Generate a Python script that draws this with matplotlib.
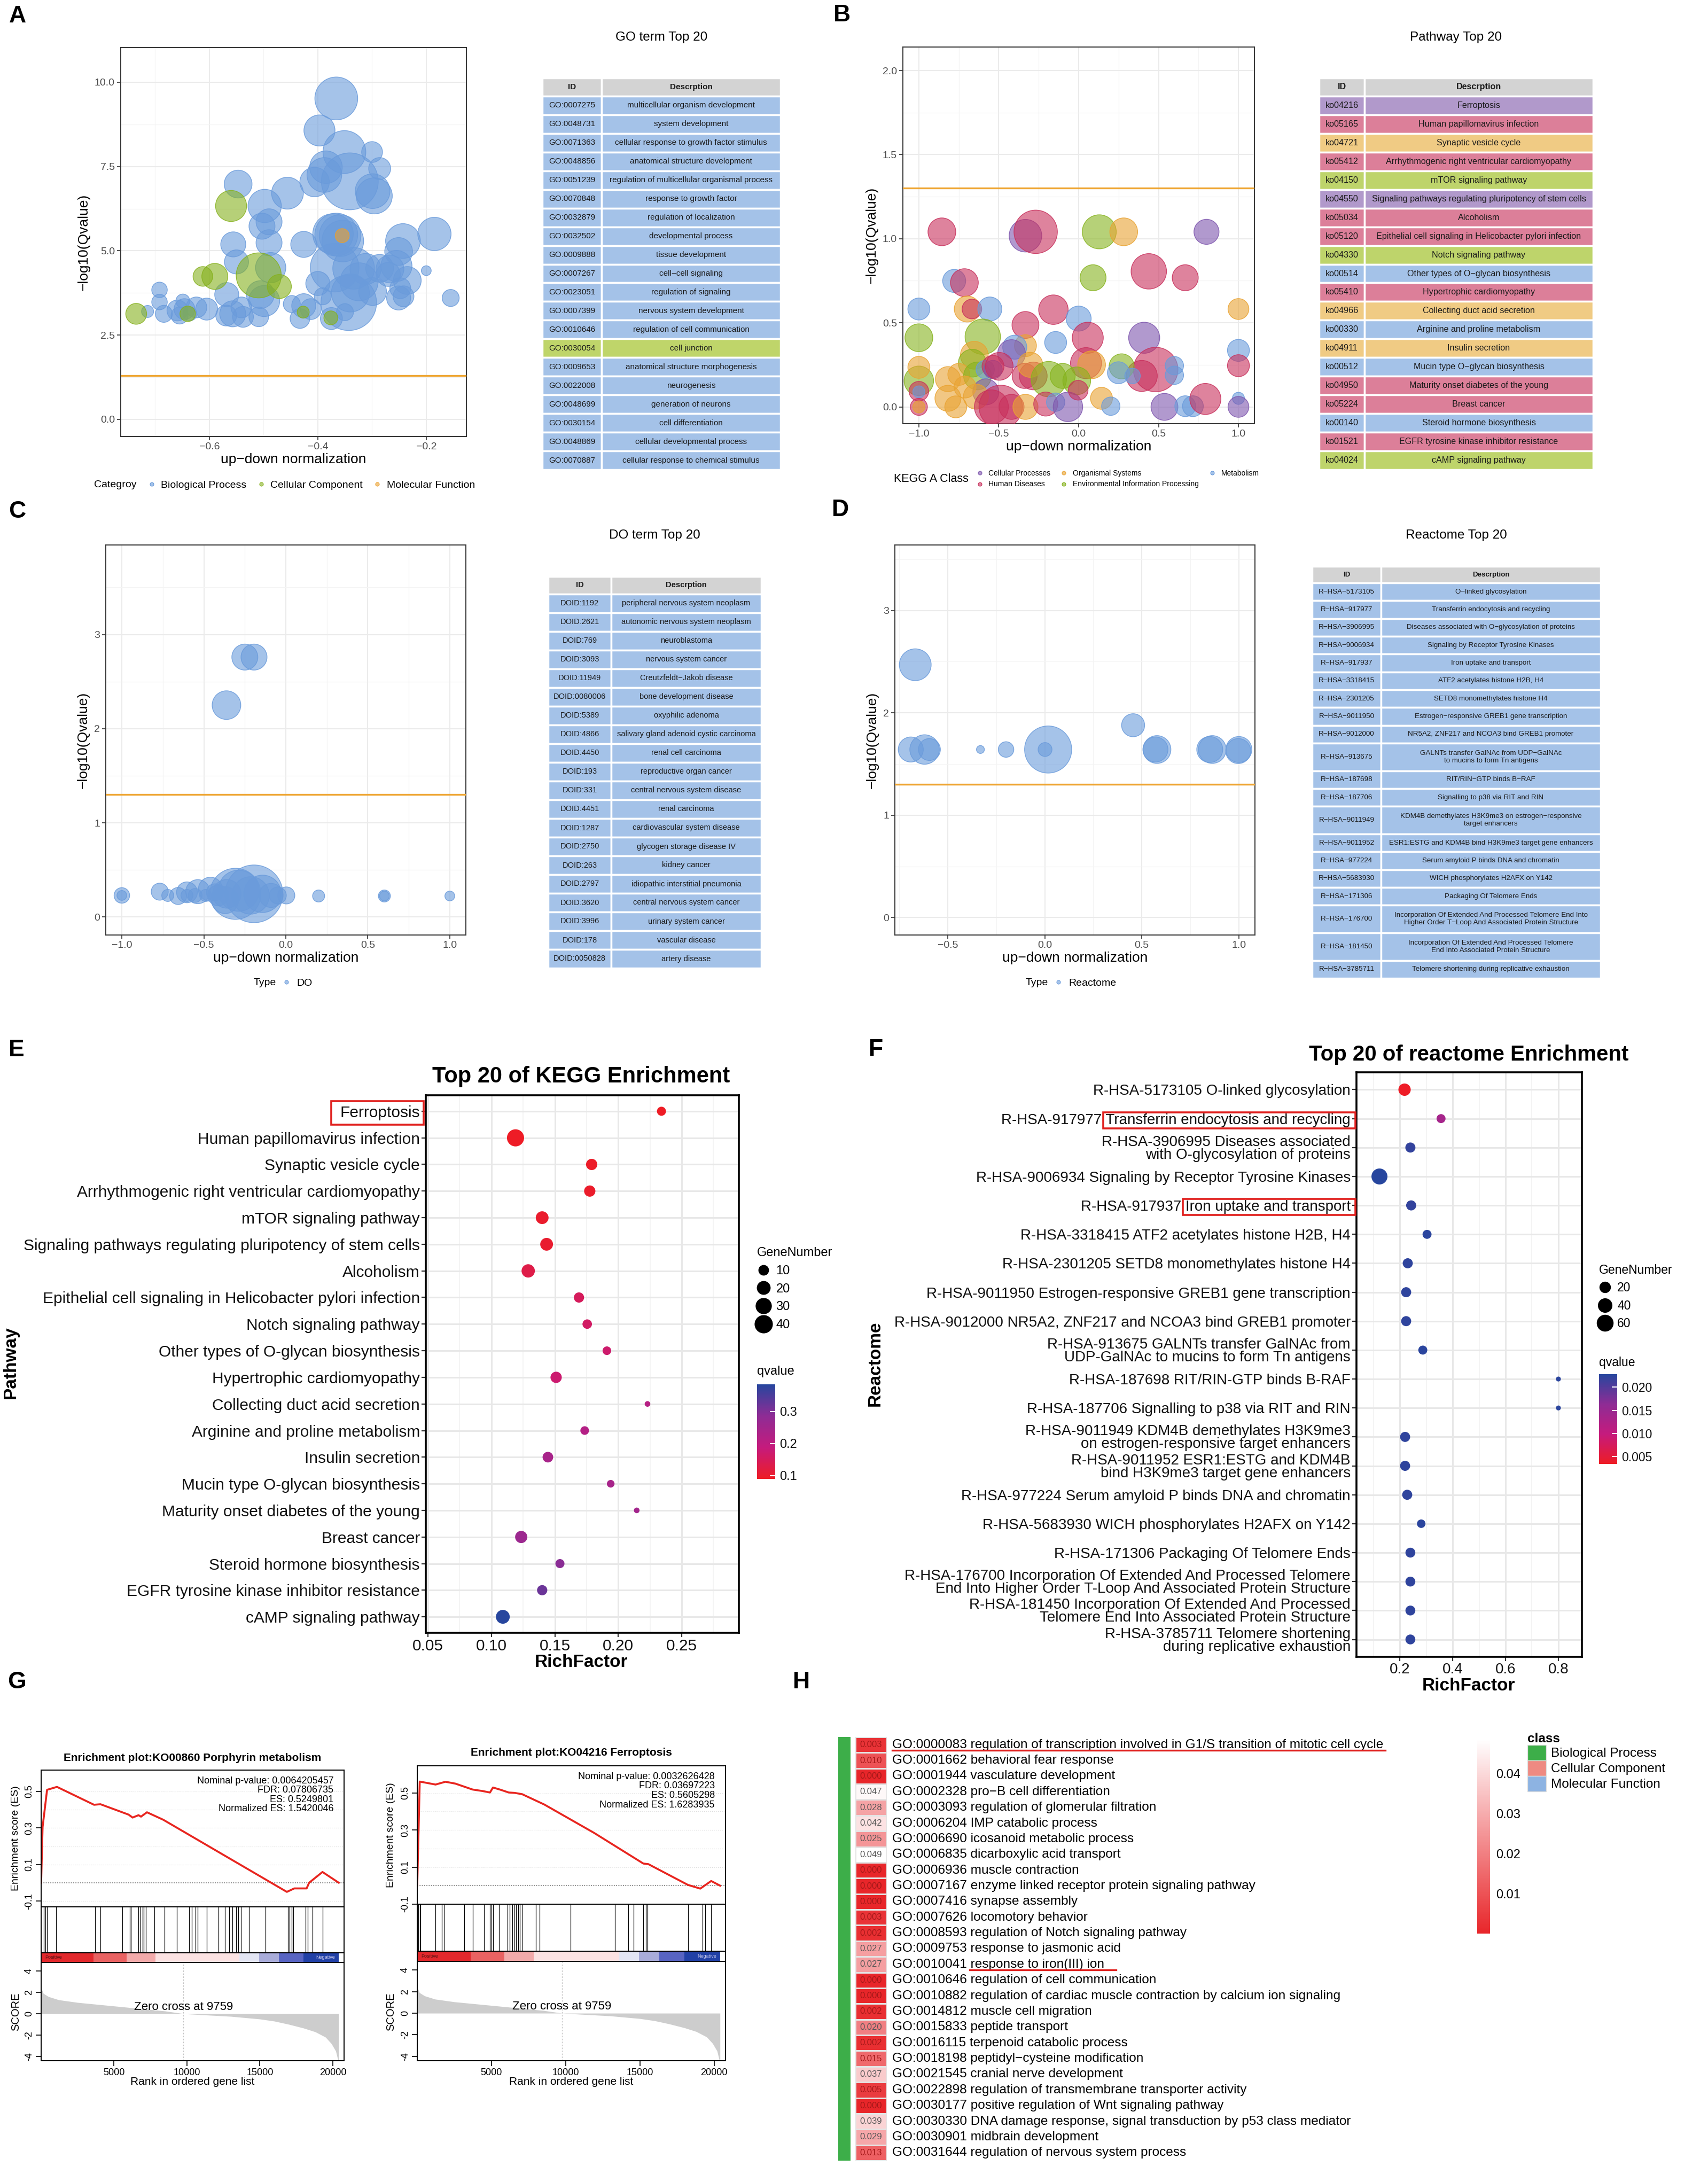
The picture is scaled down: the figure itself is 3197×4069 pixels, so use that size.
import numpy as np
import matplotlib
matplotlib.use("Agg")
import matplotlib.pyplot as plt
from matplotlib.colors import LinearSegmentedColormap, ListedColormap, to_rgba
from matplotlib.lines import Line2D
from matplotlib.patches import Patch, Rectangle

W, H = 3197, 4069
plt.rcParams['font.family'] = ['Liberation Sans', 'DejaVu Sans']

# ---------------- A: GO bubbles ----------------
go_x = [-0.366, -0.397, -0.351, -0.300, -0.385, -0.286, -0.388, -0.406, -0.341, -0.299,
        -0.296, -0.547, -0.456, -0.498, -0.490, -0.503, -0.372, -0.366, -0.359, -0.354,
        -0.426, -0.556, -0.490, -0.243, -0.185, -0.251, -0.550, -0.487, -0.369, -0.334,
        -0.312, -0.286, -0.267, -0.255, -0.235, -0.200, -0.155, -0.251, -0.248, -0.324,
        -0.343, -0.340, -0.400, -0.391, -0.426, -0.413, -0.448, -0.433, -0.375, -0.350,
        -0.299, -0.568, -0.557, -0.569, -0.541, -0.538, -0.509, -0.499, -0.506, -0.605,
        -0.624, -0.646, -0.659, -0.649, -0.684, -0.692, -0.692, -0.714, -0.655, -0.636,
        -0.242, -0.270,
        -0.560, -0.509, -0.590, -0.612, -0.471, -0.735, -0.640, -0.427, -0.376,
        -0.355]
go_y = [9.52, 8.57, 7.93, 7.93, 7.48, 7.44, 7.25, 7.04, 7.06, 6.77,
        6.63, 6.98, 6.71, 6.33, 5.86, 5.73, 5.50, 5.48, 5.45, 5.29,
        5.19, 5.19, 5.24, 5.29, 5.50, 4.98, 4.67, 4.50, 4.50, 4.48,
        4.46, 4.48, 4.46, 4.55, 4.12, 4.41, 3.60, 3.60, 3.89, 4.08,
        3.46, 3.75, 4.03, 3.65, 3.37, 3.27, 3.42, 2.99, 2.99, 3.18,
        3.79, 3.70, 3.13, 3.08, 3.32, 3.04, 3.04, 3.51, 3.70, 3.27,
        3.32, 3.27, 3.23, 3.51, 3.13, 3.48, 3.84, 3.20, 3.08, 3.13,
        3.65, 4.30,
        6.33, 4.27, 4.24, 4.24, 3.94, 3.13, 3.13, 3.18, 3.01,
        5.45]
go_n = [38, 20, 38, 9, 22, 10, 25, 18, 67, 25,
        27, 16, 21, 23, 14, 14, 34, 38, 36, 36,
        14, 13, 14, 25, 23, 16, 12, 19, 49, 36,
        20, 16, 16, 20, 16, 2, 6, 12, 9, 30,
        64, 30, 12, 6, 12, 9, 6, 8, 10, 6,
        16, 12, 14, 9, 9, 9, 8, 20, 16, 10,
        9, 9, 9, 4, 6, 5, 5, 3, 6, 4,
        9, 12,
        20, 42, 14, 8, 12, 9, 5, 3, 4,
        4]
go_cat = ['BP'] * 72 + ['CC'] * 9 + ['MF']
go_ids = ['GO:0007275', 'GO:0048731', 'GO:0071363', 'GO:0048856', 'GO:0051239', 'GO:0070848',
          'GO:0032879', 'GO:0032502', 'GO:0009888', 'GO:0007267', 'GO:0023051', 'GO:0007399',
          'GO:0010646', 'GO:0030054', 'GO:0009653', 'GO:0022008', 'GO:0048699', 'GO:0030154',
          'GO:0048869', 'GO:0070887']
go_desc = ['multicellular organism development', 'system development',
           'cellular response to growth factor stimulus', 'anatomical structure development',
           'regulation of multicellular organismal process', 'response to growth factor',
           'regulation of localization', 'developmental process', 'tissue development',
           'cell-cell signaling', 'regulation of signaling', 'nervous system development',
           'regulation of cell communication', 'cell junction',
           'anatomical structure morphogenesis', 'neurogenesis', 'generation of neurons',
           'cell differentiation', 'cellular developmental process',
           'cellular response to chemical stimulus']
go_tab_cat = ['BP'] * 13 + ['CC'] + ['BP'] * 6

# ---------------- B: KEGG bubbles ----------------
kb = [('H', -0.856, 1.041, 16), ('P', -0.333, 1.018, 22), ('H', -0.269, 1.041, 39),
      ('E', 0.129, 1.041, 24), ('O', 0.282, 1.041, 16), ('P', 0.800, 1.041, 13),
      ('M', -0.779, 0.749, 11), ('H', -0.715, 0.739, 16), ('H', 0.439, 0.806, 26),
      ('H', 0.667, 0.768, 14), ('E', 0.090, 0.768, 14), ('M', -1.0, 0.582, 10),
      ('O', -0.697, 0.582, 14), ('H', -0.668, 0.582, 8), ('M', -0.556, 0.582, 12),
      ('H', -0.158, 0.578, 18), ('M', 0.0, 0.525, 13), ('O', 1.0, 0.582, 9),
      ('H', -0.333, 0.487, 15), ('E', -1.0, 0.411, 16), ('E', -0.60, 0.417, 26),
      ('H', 0.057, 0.411, 20), ('P', 0.410, 0.411, 20), ('M', -0.144, 0.383, 10),
      ('O', -0.333, 0.364, 10), ('M', -0.40, 0.355, 12), ('M', 1.0, 0.336, 10),
      ('O', -0.653, 0.307, 16), ('P', -0.42, 0.317, 16), ('H', 0.482, 0.222, 41),
      ('H', 0.395, 0.184, 20), ('H', 0.046, 0.260, 20), ('O', 0.081, 0.250, 16),
      ('E', 0.269, 0.241, 13), ('M', 0.249, 0.203, 10), ('M', 0.337, 0.184, 5),
      ('M', 0.599, 0.245, 7), ('M', 0.599, 0.188, 7), ('H', 1.0, 0.245, 10),
      ('E', -0.666, 0.260, 16), ('E', -1.0, 0.155, 18), ('O', -1.0, 0.235, 10),
      ('H', -1.0, 0.093, 8), ('M', -1.0, 0.089, 3), ('H', -1.0, 0.0, 6),
      ('O', -1.0, 0.0, 3), ('O', -0.818, 0.165, 13), ('O', -0.75, 0.193, 10),
      ('O', -0.818, 0.051, 14), ('O', -0.769, 0.0, 10), ('E', -0.633, 0.184, 16),
      ('M', -0.585, 0.222, 7), ('H', -0.536, 0.241, 10), ('P', -0.536, 0.222, 7),
      ('H', -0.497, 0.241, 16), ('P', -0.581, 0.089, 14), ('O', -0.643, 0.061, 13),
      ('H', -0.546, 0.0, 24), ('H', -0.488, 0.0, 39), ('H', -0.420, 0.0, 13),
      ('O', -0.333, 0.0, 13), ('H', -0.338, 0.184, 13), ('H', -0.284, 0.184, 16),
      ('O', -0.303, 0.250, 13), ('E', -0.187, 0.165, 26), ('E', -0.10, 0.184, 13),
      ('E', -0.012, 0.155, 16), ('H', -0.206, 0.017, 12), ('M', -0.144, 0.028, 7),
      ('P', -0.067, 0.0, 18), ('H', -0.003, 0.099, 8), ('O', 0.143, 0.051, 10),
      ('M', 0.201, 0.004, 7), ('P', 0.537, 0.0, 15), ('M', 0.667, 0.004, 9),
      ('M', 0.715, 0.004, 9), ('H', 0.793, 0.047, 20), ('M', 1.0, 0.051, 3),
      ('P', 1.0, 0.0, 9), ('O', -0.711, 0.118, 10)]
kegg_cat = [r[0] for r in kb]
kegg_bx = [r[1] for r in kb]
kegg_by = [r[2] for r in kb]
kegg_bn = [r[3] for r in kb]
kegg_ids = ['ko04216', 'ko05165', 'ko04721', 'ko05412', 'ko04150', 'ko04550', 'ko05034',
            'ko05120', 'ko04330', 'ko00514', 'ko05410', 'ko04966', 'ko00330', 'ko04911',
            'ko00512', 'ko04950', 'ko05224', 'ko00140', 'ko01521', 'ko04024']
kegg_terms = ['Ferroptosis', 'Human papillomavirus infection', 'Synaptic vesicle cycle',
              'Arrhythmogenic right ventricular cardiomyopathy', 'mTOR signaling pathway',
              'Signaling pathways regulating pluripotency of stem cells', 'Alcoholism',
              'Epithelial cell signaling in Helicobacter pylori infection',
              'Notch signaling pathway', 'Other types of O-glycan biosynthesis',
              'Hypertrophic cardiomyopathy', 'Collecting duct acid secretion',
              'Arginine and proline metabolism', 'Insulin secretion',
              'Mucin type O-glycan biosynthesis', 'Maturity onset diabetes of the young',
              'Breast cancer', 'Steroid hormone biosynthesis',
              'EGFR tyrosine kinase inhibitor resistance', 'cAMP signaling pathway']
kegg_tab_cat = ['P', 'H', 'O', 'H', 'E', 'P', 'H', 'H', 'E', 'M',
                'H', 'O', 'M', 'O', 'M', 'H', 'H', 'M', 'H', 'E']
kegg_class_names = {'P': 'Cellular Processes', 'H': 'Human Diseases', 'O': 'Organismal Systems',
                    'E': 'Environmental Information Processing', 'M': 'Metabolism'}

# ---------------- C: DO bubbles ----------------
do_x = [-0.25, -0.194, -0.362, -1.0, -1.0, -0.769, -0.72, -0.657, -0.603, -0.603,
        -0.553, -0.537, -0.489, -0.46, -0.412, -0.36, -0.433, -0.37, -0.308, -0.288,
        -0.194, -0.215, -0.142, -0.09, -0.049, 0.003, 0.2, 0.601, 0.601, 1.0]
do_y = [2.76, 2.76, 2.25, 0.23, 0.23, 0.27, 0.23, 0.224, 0.263, 0.23,
        0.23, 0.27, 0.23, 0.296, 0.23, 0.247, 0.263, 0.18, 0.247, 0.28,
        0.247, 0.23, 0.247, 0.23, 0.23, 0.23, 0.224, 0.224, 0.224, 0.224]
do_n = [14, 14, 17, 5, 2, 6, 3, 6, 9, 3,
        4, 12, 3, 12, 9, 17, 6, 15, 54, 35,
        69, 29, 29, 12, 6, 6, 3, 3, 2, 2]
do_ids = ['DOID:1192', 'DOID:2621', 'DOID:769', 'DOID:3093', 'DOID:11949', 'DOID:0080006',
          'DOID:5389', 'DOID:4866', 'DOID:4450', 'DOID:193', 'DOID:331', 'DOID:4451',
          'DOID:1287', 'DOID:2750', 'DOID:263', 'DOID:2797', 'DOID:3620', 'DOID:3996',
          'DOID:178', 'DOID:0050828']
do_desc = ['peripheral nervous system neoplasm', 'autonomic nervous system neoplasm',
           'neuroblastoma', 'nervous system cancer', 'Creutzfeldt-Jakob disease',
           'bone development disease', 'oxyphilic adenoma',
           'salivary gland adenoid cystic carcinoma', 'renal cell carcinoma',
           'reproductive organ cancer', 'central nervous system disease', 'renal carcinoma',
           'cardiovascular system disease', 'glycogen storage disease IV', 'kidney cancer',
           'idiopathic interstitial pneumonia', 'central nervous system cancer',
           'urinary system cancer', 'vascular disease', 'artery disease']

# ---------------- D: Reactome bubbles ----------------
re_x = [-0.668, -0.691, -0.62, -0.595, -0.332, -0.2, 0.017, 0.001, 0.455, 0.578,
        0.570, 0.863, 0.85, 1.0, 0.997]
re_y = [2.47, 1.642, 1.642, 1.642, 1.642, 1.642, 1.642, 1.642, 1.879, 1.642,
        1.642, 1.642, 1.642, 1.642, 1.627]
re_n = [21, 13, 18, 10, 1.3, 5, 46, 4, 11, 16, 13, 16, 14, 14, 13]
re_ids = ['R-HSA-5173105', 'R-HSA-917977', 'R-HSA-3906995', 'R-HSA-9006934', 'R-HSA-917937',
          'R-HSA-3318415', 'R-HSA-2301205', 'R-HSA-9011950', 'R-HSA-9012000', 'R-HSA-913675',
          'R-HSA-187698', 'R-HSA-187706', 'R-HSA-9011949', 'R-HSA-9011952', 'R-HSA-977224',
          'R-HSA-5683930', 'R-HSA-171306', 'R-HSA-176700', 'R-HSA-181450', 'R-HSA-3785711']
re_desc = ['O-linked glycosylation', 'Transferrin endocytosis and recycling',
           'Diseases associated with O-glycosylation of proteins',
           'Signaling by Receptor Tyrosine Kinases', 'Iron uptake and transport',
           'ATF2 acetylates histone H2B, H4', 'SETD8 monomethylates histone H4',
           'Estrogen-responsive GREB1 gene transcription',
           'NR5A2, ZNF217 and NCOA3 bind GREB1 promoter',
           'GALNTs transfer GalNAc from UDP-GalNAc\nto mucins to form Tn antigens',
           'RIT/RIN-GTP binds B-RAF', 'Signalling to p38 via RIT and RIN',
           'KDM4B demethylates H3K9me3 on estrogen-responsive\ntarget enhancers',
           'ESR1:ESTG and KDM4B bind H3K9me3 target gene enhancers',
           'Serum amyloid P binds DNA and chromatin', 'WICH phosphorylates H2AFX on Y142',
           'Packaging Of Telomere Ends',
           'Incorporation Of Extended And Processed Telomere End Into\nHigher Order T-Loop And Associated Protein Structure',
           'Incorporation Of Extended And Processed Telomere\nEnd Into Associated Protein Structure',
           'Telomere shortening during replicative exhaustion']

# ---------------- E: KEGG enrichment dots ----------------
kegg_rich = [0.234, 0.119, 0.179, 0.1775, 0.140, 0.1435, 0.129, 0.169, 0.1755, 0.191,
             0.151, 0.223, 0.1735, 0.1445, 0.194, 0.2145, 0.1235, 0.154, 0.140, 0.109]
kegg_genes = [8, 38, 14, 14, 19, 19, 21, 11, 9, 7, 14, 2, 7, 12, 5, 2, 17, 8, 11, 23]
kegg_q = [0.090, 0.092, 0.095, 0.097, 0.100, 0.102, 0.130, 0.150, 0.160, 0.170,
          0.172, 0.215, 0.220, 0.240, 0.242, 0.250, 0.262, 0.290, 0.320, 0.385]

# ---------------- F: Reactome enrichment dots ----------------
react_terms = ['R-HSA-5173105 O-linked glycosylation',
               'R-HSA-917977 Transferrin endocytosis and recycling',
               'R-HSA-3906995 Diseases associated\nwith O-glycosylation of proteins',
               'R-HSA-9006934 Signaling by Receptor Tyrosine Kinases',
               'R-HSA-917937 Iron uptake and transport',
               'R-HSA-3318415 ATF2 acetylates histone H2B, H4',
               'R-HSA-2301205 SETD8 monomethylates histone H4',
               'R-HSA-9011950 Estrogen-responsive GREB1 gene transcription',
               'R-HSA-9012000 NR5A2, ZNF217 and NCOA3 bind GREB1 promoter',
               'R-HSA-913675 GALNTs transfer GalNAc from\nUDP-GalNAc to mucins to form Tn antigens',
               'R-HSA-187698 RIT/RIN-GTP binds B-RAF',
               'R-HSA-187706 Signalling to p38 via RIT and RIN',
               'R-HSA-9011949 KDM4B demethylates H3K9me3\non estrogen-responsive target enhancers',
               'R-HSA-9011952 ESR1:ESTG and KDM4B\nbind H3K9me3 target gene enhancers',
               'R-HSA-977224 Serum amyloid P binds DNA and chromatin',
               'R-HSA-5683930 WICH phosphorylates H2AFX on Y142',
               'R-HSA-171306 Packaging Of Telomere Ends',
               'R-HSA-176700 Incorporation Of Extended And Processed Telomere\nEnd Into Higher Order T-Loop And Associated Protein Structure',
               'R-HSA-181450 Incorporation Of Extended And Processed\nTelomere End Into Associated Protein Structure',
               'R-HSA-3785711 Telomere shortening\nduring replicative exhaustion']
react_rich = [0.218, 0.356, 0.240, 0.123, 0.243, 0.303, 0.230, 0.224, 0.224, 0.287,
              0.800, 0.800, 0.220, 0.220, 0.228, 0.281, 0.240, 0.240, 0.240, 0.240]
react_genes = [30, 12, 17, 59, 17, 12, 17, 17, 17, 12, 1, 1, 17, 17, 17, 10, 16, 16, 16, 16]
react_q = [0.0035, 0.0135, 0.0220, 0.0228, 0.0220, 0.0225, 0.0222, 0.0222, 0.0222, 0.0225,
           0.0225, 0.0225, 0.0222, 0.0222, 0.0222, 0.0225, 0.0222, 0.0222, 0.0222, 0.0222]

# ---------------- G: GSEA ----------------
es1_x = [0, 100, 407, 1085, 3627, 4068, 6000, 6271, 6678, 6848, 7255, 8373, 13458, 16848,
         17357, 18204, 18374, 19290, 20408]
es1_y = [0.0, 0.305, 0.509, 0.525, 0.427, 0.430, 0.373, 0.357, 0.370, 0.362, 0.386, 0.345,
         0.108, -0.050, -0.031, -0.031, 0.0, 0.059, 0.0]
hits1 = [170, 305, 407, 1017, 3695, 4068, 5560, 6068, 6170, 6678, 6780, 6950, 7018, 7187,
         7763, 8475, 9322, 10136, 10340, 10577, 10747, 11357, 12170, 12611, 12882, 13119,
         13357, 13526, 13696, 14238, 15391, 16916, 17018, 17187, 17289, 18137, 18272,
         18611, 19290]
es2_x = [0, 167, 567, 1234, 1900, 2567, 3734, 4401, 4901, 5101, 5568, 6168, 6568, 7068,
         8568, 11902, 15236, 15570, 18237, 19070, 19804, 20404]
es2_y = [0.0, 0.561, 0.555, 0.545, 0.560, 0.550, 0.518, 0.510, 0.502, 0.529, 0.518, 0.502,
         0.500, 0.493, 0.437, 0.285, 0.119, 0.116, 0.004, -0.016, 0.025, 0.0]
hits2 = [67, 167, 233, 1234, 1667, 1800, 3167, 3734, 4501, 4901, 5001, 5101, 5501, 6068,
         6235, 6401, 6568, 6668, 6801, 6901, 7068, 8002, 8235, 10335, 13336, 14236, 14569,
         15236, 15403, 15503, 18237, 19237, 19404, 19804]
score_x = [0, 150, 500, 1200, 2500, 4000, 5500, 7000, 8500, 9759, 11000, 13000, 15000,
           16000, 17000, 18000, 18800, 19500, 19900, 20200, 20400]
score_y = [2.4, 1.9, 1.6, 1.3, 1.05, 0.85, 0.65, 0.45, 0.25, 0.0, -0.1, -0.25, -0.5,
           -0.7, -1.0, -1.35, -1.7, -2.2, -2.8, -3.5, -4.6]
rank_edges = [0, 3600, 5850, 7850, 13600, 14950, 16300, 18000, 20400]
rank_colors = ['#E2282C', '#E96262', '#F2AAAA', '#FBE2E2', '#E3E5F3', '#A9ACD9',
               '#5864C2', '#2140A6']
zero_cross = 9759
gsea_titles = ['Enrichment plot:KO00860 Porphyrin metabolism',
               'Enrichment plot:KO04216 Ferroptosis']
gsea_stats = ['Nominal p-value: 0.0064205457\nFDR: 0.07806735\nES: 0.5249801\nNormalized ES: 1.5420046',
              'Nominal p-value: 0.0032626428\nFDR: 0.03697223\nES: 0.5605298\nNormalized ES: 1.6283935']

# ---------------- H: GO heatmap ----------------
h_ids = ['GO:0000083', 'GO:0001662', 'GO:0001944', 'GO:0002328', 'GO:0003093', 'GO:0006204',
         'GO:0006690', 'GO:0006835', 'GO:0006936', 'GO:0007167', 'GO:0007416', 'GO:0007626',
         'GO:0008593', 'GO:0009753', 'GO:0010041', 'GO:0010646', 'GO:0010882', 'GO:0014812',
         'GO:0015833', 'GO:0016115', 'GO:0018198', 'GO:0021545', 'GO:0022898', 'GO:0030177',
         'GO:0030330', 'GO:0030901', 'GO:0031644']
h_desc = ['regulation of transcription involved in G1/S transition of mitotic cell cycle',
          'behavioral fear response', 'vasculature development', 'pro-B cell differentiation',
          'regulation of glomerular filtration', 'IMP catabolic process',
          'icosanoid metabolic process', 'dicarboxylic acid transport', 'muscle contraction',
          'enzyme linked receptor protein signaling pathway', 'synapse assembly',
          'locomotory behavior', 'regulation of Notch signaling pathway',
          'response to jasmonic acid', 'response to iron(III) ion',
          'regulation of cell communication',
          'regulation of cardiac muscle contraction by calcium ion signaling',
          'muscle cell migration', 'peptide transport', 'terpenoid catabolic process',
          'peptidyl-cysteine modification', 'cranial nerve development',
          'regulation of transmembrane transporter activity',
          'positive regulation of Wnt signaling pathway',
          'DNA damage response, signal transduction by p53 class mediator',
          'midbrain development', 'regulation of nervous system process']
h_q = [0.003, 0.010, 0.000, 0.047, 0.028, 0.042, 0.025, 0.049, 0.000, 0.000, 0.000, 0.003,
       0.002, 0.027, 0.027, 0.000, 0.000, 0.002, 0.020, 0.002, 0.015, 0.037, 0.005, 0.000,
       0.039, 0.029, 0.013]
h_class = ['Biological Process'] * 27
h_class_names = ['Biological Process', 'Cellular Component', 'Molecular Function']

# ---------------- styles ----------------
go_pal = {'BP': '#6A9BDB', 'CC': '#86B11E', 'MF': '#EBA02E'}
go_tab_pal = {'BP': '#A4C2E8', 'CC': '#BFD56A'}
kegg_pal = {'P': '#7E56AE', 'H': '#C8305C', 'O': '#E9A332', 'E': '#86B31E', 'M': '#6A9BDB'}
kegg_tab_pal = {'P': '#B199CB', 'H': '#DC7F99', 'O': '#F0CB84', 'E': '#BED46B', 'M': '#A4C2E8'}
cmap_rb = LinearSegmentedColormap.from_list('rb', ['#EE1C25', '#C51B7D', '#8E2C95', '#27469E'])
cmap_rw = LinearSegmentedColormap.from_list('rw', ['#E8262A', '#FFFFFF'])
class_pal = {'Biological Process': '#3DAE49', 'Cellular Component': '#EE8A82',
             'Molecular Function': '#8DB3E2'}

fig = plt.figure(figsize=(W / 100, H / 100), dpi=100)


def px_axes(l, t, r, b):
    return fig.add_axes([l / W, 1 - b / H, (r - l) / W, (b - t) / H])


def fy(y):
    return 1 - y / H


def bubble_panel(box, xs, ys, ns, cols, xlim, ylim, xmaj, xmin, ymaj, ymin, xfmt, yfmt):
    ax = px_axes(*box)
    ax.scatter(xs, ys, s=87.6 * np.asarray(ns, float),
               facecolor=[to_rgba(c, 0.6) for c in cols],
               edgecolor=[to_rgba(c, 0.85) for c in cols], linewidth=1.0, zorder=3)
    ax.axhline(-np.log10(0.05), color='#EEA532', lw=2.4, zorder=4)
    ax.set_xlim(xlim)
    ax.set_ylim(ylim)
    ax.set_xticks(xmaj, [xfmt.format(v).replace('-', '\u2212') for v in xmaj])
    ax.set_xticks(xmin, minor=True)
    ax.set_yticks(ymaj, [yfmt.format(v) for v in ymaj])
    ax.set_yticks(ymin, minor=True)
    ax.grid(True, which='major', color='#EBEBEB', lw=1.5)
    ax.grid(True, which='minor', color='#F4F4F4', lw=0.9)
    ax.set_axisbelow(True)
    for s in ax.spines.values():
        s.set_color('#333333')
        s.set_linewidth(1.4)
    ax.tick_params(which='major', length=5, width=1.2, color='#333333', labelsize=14,
                   labelcolor='#4D4D4D', pad=3)
    ax.tick_params(which='minor', length=0)
    ax.set_xlabel('up\u2212down normalization', fontsize=19, labelpad=2)
    ax.set_ylabel('\u2212log10(Qvalue)', fontsize=19, labelpad=6)
    return ax


def dot_handle(c):
    return Line2D([], [], ls='', marker='o', markersize=5, markerfacecolor=to_rgba(c, 0.6),
                  markeredgecolor=c, markeredgewidth=0.8)


def draw_table(box, split_x, ids, descs, colors, fs, header_h, row_h, title, title_y):
    l, t, r, b = box
    ax = px_axes(l, t, r, b)
    ax.set_axis_off()
    fw = (split_x - l) / (r - l)
    cells = [[i.replace('-', '\u2212'), d.replace('-', '\u2212')] for i, d in zip(ids, descs)]
    tb = ax.table(cellText=cells, colLabels=['ID', 'Descrption'],
                  cellColours=[[c, c] for c in colors], colColours=['#D3D3D3', '#D3D3D3'],
                  colWidths=[fw, 1 - fw], cellLoc='center', bbox=[0, 0, 1, 1])
    tb.auto_set_font_size(False)
    tb.set_fontsize(fs)
    for (ri, ci), cell in tb.get_celld().items():
        cell.set_edgecolor('white')
        cell.set_linewidth(2.5)
        cell.get_text().set_color('#1A1A1A')
        if ri == 0:
            cell.get_text().set_fontweight('bold')
            cell.set_height(header_h)
        else:
            cell.set_height(row_h[ri - 1])
    fig.text((l + r) / 2 / W, fy(title_y), title, ha='center', va='center', fontsize=17.5)
    return tb


# ---------------- panel A ----------------
axA = bubble_panel((226, 89, 873, 817), go_x, go_y, go_n, [go_pal[c] for c in go_cat],
                   (-0.7635, -0.126), (-0.51, 11.03), [-0.6, -0.4, -0.2], [-0.7, -0.5, -0.3],
                   [0, 2.5, 5, 7.5, 10], [1.25, 3.75, 6.25, 8.75], '{:.1f}', '{:.1f}')
fig.text(176 / W, fy(908), 'Categroy', fontsize=14, va='center')
fig.legend([dot_handle(go_pal[k]) for k in ['BP', 'CC', 'MF']],
           ['Biological Process', 'Cellular Component', 'Molecular Function'],
           loc='center left', bbox_to_anchor=(276 / W, fy(908)), ncol=3, frameon=False,
           fontsize=14, handlelength=0.8, handletextpad=0.5, columnspacing=1.0,
           borderpad=0, borderaxespad=0)
draw_table((1015, 146, 1461, 879), 1126, go_ids, go_desc, [go_tab_pal[c] for c in go_tab_cat],
           11, 34, [35] * 20, 'GO term Top 20', 70)

# ---------------- panel B ----------------
axB = bubble_panel((1690, 88, 2348, 793), kegg_bx, kegg_by, kegg_bn,
                   [kegg_pal[c] for c in kegg_cat], (-1.10, 1.10), (-0.10, 2.14),
                   [-1, -0.5, 0, 0.5, 1], [-0.75, -0.25, 0.25, 0.75],
                   [0, 0.5, 1, 1.5, 2], [0.25, 0.75, 1.25, 1.75], '{:.1f}', '{:.1f}')
fig.text(1673 / W, fy(896), 'KEGG A Class', fontsize=15.5, va='center')
order_b = ['P', 'H', 'O', 'E', 'M']
fig.legend([dot_handle(kegg_pal[k]) for k in order_b], [kegg_class_names[k] for k in order_b],
           loc='center left', bbox_to_anchor=(1828 / W, fy(896)), ncol=3, frameon=False,
           fontsize=10, handlelength=0.8, handletextpad=0.8, columnspacing=1.4,
           labelspacing=0.5, borderpad=0, borderaxespad=0)
draw_table((2469, 146, 2982, 879), 2554, kegg_ids, kegg_terms,
           [kegg_tab_pal[c] for c in kegg_tab_cat], 11.6, 34, [35] * 20, 'Pathway Top 20', 70)

# ---------------- panel C ----------------
axC = bubble_panel((198, 1020, 872, 1750), do_x, do_y, do_n, [go_pal['BP']] * len(do_x),
                   (-1.098, 1.098), (-0.19, 3.95), [-1, -0.5, 0, 0.5, 1],
                   [-0.75, -0.25, 0.25, 0.75], [0, 1, 2, 3], [0.5, 1.5, 2.5, 3.5],
                   '{:.1f}', '{:.0f}')
fig.text(475 / W, fy(1840), 'Type', fontsize=14, va='center')
fig.legend([dot_handle(go_pal['BP'])], ['DO'], loc='center left',
           bbox_to_anchor=(528 / W, fy(1840)), frameon=False, fontsize=14, handlelength=0.8,
           handletextpad=0.6, borderpad=0, borderaxespad=0)
draw_table((1026, 1079, 1425, 1812), 1144, do_ids, do_desc, ['#A4C2E8'] * 20, 10.5, 33,
           [35] * 20, 'DO term Top 20', 1002)

# ---------------- panel D ----------------
axD = bubble_panel((1675, 1020, 2349, 1750), re_x, re_y, re_n, [go_pal['BP']] * len(re_x),
                   (-0.773, 1.083), (-0.17, 3.64), [-0.5, 0, 0.5, 1],
                   [-0.75, -0.25, 0.25, 0.75], [0, 1, 2, 3], [0.5, 1.5, 2.5, 3.5],
                   '{:.1f}', '{:.0f}')
fig.text(1920 / W, fy(1840), 'Type', fontsize=14, va='center')
fig.legend([dot_handle(go_pal['BP'])], ['Reactome'], loc='center left',
           bbox_to_anchor=(1973 / W, fy(1840)), frameon=False, fontsize=14, handlelength=0.8,
           handletextpad=0.6, borderpad=0, borderaxespad=0)
re_rows = [33.3 if '\n' not in d else 51.7 for d in re_desc]
draw_table((2456, 1060, 2996, 1831), 2585, re_ids, re_desc, ['#A4C2E8'] * 20, 9.6, 31,
           re_rows, 'Reactome Top 20', 1002)


# ---------------- panels E / F ----------------
def enrich_panel(box, terms, rich, genes, q, xlim, xmaj, xmin, xfmt, dia, qlim, label_fs):
    ax = px_axes(*box)
    ypos = np.arange(len(terms))
    sizes = (np.asarray([dia(g) for g in genes]) * 0.72) ** 2
    sc = ax.scatter(rich, ypos, s=sizes, c=q, cmap=cmap_rb, vmin=qlim[0], vmax=qlim[1],
                    linewidth=0, zorder=3)
    ax.set_yticks(ypos, terms)
    ax.set_ylim(len(terms) - 1 + 0.6, -0.6)
    ax.set_xlim(xlim)
    ax.set_xticks(xmaj, [xfmt.format(v) for v in xmaj])
    ax.set_xticks(xmin, minor=True)
    ax.grid(True, which='major', color='#E8E8E8', lw=2.2)
    ax.grid(True, which='minor', axis='x', color='#F2F2F2', lw=1.2)
    ax.set_axisbelow(True)
    for s in ax.spines.values():
        s.set_color('black')
        s.set_linewidth(2.6)
    ax.tick_params(which='major', length=6, width=1.6, color='#333333', labelsize=label_fs,
                   labelcolor='#111111', pad=2)
    ax.tick_params(which='minor', length=0)
    for lbl in ax.get_yticklabels():
        lbl.set_linespacing(0.9)
    return ax, sc


def size_legend(vals, dia, x, y, fs, spacing):
    hs = [Line2D([], [], ls='', marker='o', markersize=dia(v) * 0.72, color='black')
          for v in vals]
    fig.legend(hs, [str(v) for v in vals], title='GeneNumber', loc='upper left',
               bbox_to_anchor=(x / W, fy(y)), frameon=False, alignment='left',
               fontsize=fs, title_fontsize=fs,
               handlelength=1.0, handletextpad=0.5, labelspacing=spacing, borderpad=0,
               borderaxespad=0)


def q_colorbar(sc, box, ticks, fmt, fs, title_y):
    cax = px_axes(*box)
    cb = fig.colorbar(sc, cax=cax, ticks=ticks)
    cb.outline.set_visible(False)
    cax.set_yticklabels([fmt.format(t) for t in ticks])
    cax.tick_params(direction='in', length=7, width=1.5, color='white', labelsize=fs,
                    labelcolor='#111111', pad=6)
    fig.text(box[0] / W, fy(title_y), 'qvalue', fontsize=fs, va='center')


kegg_dia = lambda g: 4.2 + 4.52 * np.sqrt(g)
axE, scE = enrich_panel((797, 2050, 1383, 3056), kegg_terms, kegg_rich, kegg_genes, kegg_q,
                        (0.0483, 0.295), [0.05, 0.10, 0.15, 0.20, 0.25],
                        [0.075, 0.125, 0.175, 0.225, 0.275], '{:.2f}', kegg_dia,
                        (0.09, 0.385), 21.5)
fig.text(1088 / W, fy(2015), 'Top 20 of KEGG Enrichment', ha='center', va='center',
         fontsize=30, weight='bold')
fig.text(1088 / W, fy(3112), 'RichFactor', ha='center', va='center', fontsize=24,
         weight='bold')
fig.text(20 / W, fy(2550), 'Pathway', ha='center', va='center', rotation=90, fontsize=24,
         weight='bold')
size_legend([10, 20, 30, 40], kegg_dia, 1417, 2334, 17, 0.5)
q_colorbar(scE, (1417, 2591, 1451, 2768), [0.1, 0.2, 0.3], '{:.1f}', 17, 2567)

react_dia = lambda g: 6.1 + 3.1 * np.sqrt(g)
axF, scF = enrich_panel((2539, 2007, 2961, 3101), react_terms, react_rich, react_genes,
                        react_q, (0.036, 0.889), [0.2, 0.4, 0.6, 0.8], [0.1, 0.3, 0.5, 0.7],
                        '{:.1f}', react_dia, (0.0034, 0.0228), 20)
fig.text(2749 / W, fy(1974), 'Top 20 of reactome Enrichment', ha='center', va='center',
         fontsize=29, weight='bold')
fig.text(2749 / W, fy(3156), 'RichFactor', ha='center', va='center', fontsize=24,
         weight='bold')
fig.text(1638 / W, fy(2552), 'Reactome', ha='center', va='center', rotation=90, fontsize=24,
         weight='bold')
size_legend([20, 40, 60], react_dia, 2993, 2366, 16.5, 0.45)
q_colorbar(scF, (2993, 2572, 3027, 2740), [0.005, 0.010, 0.015, 0.020], '{:.3f}', 16.5, 2550)


# ---------------- panel G ----------------
def gsea_panel(l, r, t_es, b_es, b_hit, b_bar, b_sc, es_x, es_y, es_ylim, hits, title,
               stats, title_y, ylab_x):
    xmax = 20770
    ax1 = px_axes(l, t_es, r, b_es)
    for g in [-0.1, 0.1, 0.2, 0.3, 0.4, 0.5]:
        ax1.axhline(g, color='#D8D8D8', lw=0.9, ls=(0, (1, 2)))
    ax1.axhline(0, color='#8C8C8C', lw=1.4, ls=(0, (1, 1.2)))
    ax1.plot(es_x, es_y, color='#E8251F', lw=2.6, solid_joinstyle='round')
    ax1.set_xlim(0, xmax)
    ax1.set_ylim(es_ylim)
    ax1.set_xticks([])
    ax1.set_yticks([-0.1, 0.1, 0.3, 0.5], ['-0.1', '0.1', '0.3', '0.5'], rotation=90,
                   va='center')
    ax1.text(0.965, 0.955, stats, transform=ax1.transAxes, ha='right', va='top',
             fontsize=13, linespacing=1.05)
    ax2 = px_axes(l, b_es, r, b_hit)
    ax2.vlines(hits, 0, 1, color='black', lw=0.9)
    ax2.set_xlim(0, xmax)
    ax2.set_ylim(0, 1)
    ax2.set_xticks([])
    ax2.set_yticks([])
    ax3 = px_axes(l, b_hit, r, b_bar)
    ax3.bar(rank_edges[:-1], 1, width=np.diff(rank_edges), align='edge', color=rank_colors,
            linewidth=0)
    ax3.text(250, 0.5, 'Positive', fontsize=6.5, va='center', color='#551111')
    ax3.text(rank_edges[-1] - 250, 0.5, 'Negative', fontsize=6.5, va='center', ha='right',
             color='#CCCCEE')
    ax3.set_xlim(0, xmax)
    ax3.set_ylim(0, 1)
    ax3.set_xticks([])
    ax3.set_yticks([])
    ax4 = px_axes(l, b_bar, r, b_sc)
    ax4.fill_between(score_x, score_y, 0, color='#CDCDCD', lw=0)
    ax4.axvline(zero_cross, color='#C4C4C4', lw=1.0, ls=(0, (2, 2)))
    ax4.text(zero_cross, 0.6, 'Zero cross at %d' % zero_cross, ha='center', va='center',
             fontsize=16)
    ax4.set_xlim(0, xmax)
    ax4.set_ylim(-4.4, 4.8)
    ax4.set_yticks([-4, -2, 0, 2, 4], ['-4', '-2', '0', '2', '4'], rotation=90, va='center')
    ax4.set_xticks([5000, 10000, 15000, 20000])
    for ax in (ax1, ax2, ax3, ax4):
        for s in ax.spines.values():
            s.set_color('black')
            s.set_linewidth(1.4)
        ax.tick_params(length=7, width=1.2, labelsize=13, pad=3)
    cx = (l + r) / 2 / W
    fig.text(cx, fy(title_y), title, ha='center', va='center', fontsize=15, weight='bold')
    fig.text(cx, fy(3897), 'Rank in ordered gene list', ha='center', va='center',
             fontsize=15)
    fig.text(ylab_x / W, fy((t_es + b_es) / 2), 'Enrichment score (ES)', rotation=90,
             ha='center', va='center', fontsize=14)
    fig.text(ylab_x / W, fy(3765), 'SCORE', rotation=90, ha='center', va='center',
             fontsize=14.5)


gsea_panel(77, 644, 3313, 3569, 3655, 3673, 3857, es1_x, es1_y, (-0.132, 0.617), hits1,
           gsea_titles[0], gsea_stats[0], 3291, 30)
gsea_panel(781, 1358, 3305, 3564, 3652, 3671, 3857, es2_x, es2_y, (-0.1, 0.646), hits2,
           gsea_titles[1], gsea_stats[1], 3281, 732)

# ---------------- panel H ----------------
n_h = len(h_ids)
axHc = px_axes(1569, 3251, 1592, 4044)
cls_idx = np.array([h_class_names.index(c) for c in h_class])[:, None]
axHc.imshow(cls_idx, cmap=ListedColormap([class_pal[c] for c in h_class_names]), vmin=0,
            vmax=2, aspect='auto', interpolation='nearest')
axHc.set_axis_off()
axHv = px_axes(1601, 3251, 1660, 4044)
hm = axHv.pcolormesh(np.array(h_q)[:, None], cmap=cmap_rw, vmin=0, vmax=0.0486,
                     edgecolors='#E4E4E4', linewidth=0.8)
axHv.set_ylim(n_h, 0)
axHv.set_axis_off()
H_FS = 17.6
h_labels = []
for i, (gid, d, v) in enumerate(zip(h_ids, h_desc, h_q)):
    axHv.text(0.5, i + 0.5, '%.3f' % v, ha='center', va='center', fontsize=12,
              color='#A31818' if v < 0.016 else '#555555')
    t = axHv.annotate(gid + ' ' + d.replace('-', '\u2212'), xy=(1, i + 0.5),
                      xycoords=('axes fraction', 'data'), xytext=(10, 0),
                      textcoords='offset pixels', va='center', ha='left', fontsize=H_FS)
    h_labels.append(t)
cax = px_axes(2765, 3255, 2789, 3619)
cbH = fig.colorbar(hm, cax=cax, ticks=[0.01, 0.02, 0.03, 0.04])
cbH.outline.set_visible(False)
cax.set_yticklabels(['0.01', '0.02', '0.03', '0.04'])
cax.tick_params(length=0, labelsize=17, pad=8)
fig.legend([Patch(facecolor=class_pal[c], edgecolor='#DDDDDD') for c in h_class_names],
           h_class_names, title='class', loc='upper left', bbox_to_anchor=(2859 / W, fy(3243)),
           frameon=False, alignment='left', handlelength=1.45, handleheight=1.45,
           labelspacing=0.0, handletextpad=0.35, borderpad=0, borderaxespad=0,
           fontsize=17.5, title_fontproperties={'size': 17.5, 'weight': 'bold'})

# ---------------- panel letters ----------------
for letter, (x, y) in {'A': (33, 30), 'B': (1576, 28), 'C': (32, 958), 'D': (1573, 955),
                       'E': (31, 1965), 'F': (1640, 1964), 'G': (31, 3148),
                       'H': (1500, 3148)}.items():
    fig.text(x / W, fy(y), letter, ha='center', va='center', fontsize=32, weight='bold')

# ---------------- highlight boxes and underlines (from rendered text extents) ----------------
fig.canvas.draw()
rend = fig.canvas.get_renderer()
inv = fig.transFigure.inverted()


def text_width(s, fs):
    t = fig.text(0, 0, s, fontsize=fs)
    w = t.get_window_extent(rend).width
    t.remove()
    return w


def fig_rect(x0, y0, x1, y1):
    (a, b), (c, d) = inv.transform([(x0, y0), (x1, y1)])
    fig.add_artist(Rectangle((a, b), c - a, d - b, transform=fig.transFigure, fill=False,
                             edgecolor='#E0201E', lw=2.6))


def fig_line(x0, x1, y):
    (a, b), (c, d) = inv.transform([(x0, y), (x1, y)])
    fig.add_artist(Line2D([a, c], [b, d], transform=fig.transFigure, color='#E0201E', lw=2.4))


axE_left = axE.get_window_extent(rend).x0
bb = axE.get_yticklabels()[0].get_window_extent(rend)
fig_rect(bb.x0 - 16, bb.y0 - 8, axE_left - 4, bb.y1 + 8)

axF_left = axF.get_window_extent(rend).x0
for idx in (1, 4):
    suffix = react_terms[idx].split(' ', 1)[1]
    bb = axF.get_yticklabels()[idx].get_window_extent(rend)
    w = text_width(suffix, 20)
    fig_rect(bb.x1 - w - 5, bb.y0 - 2, axF_left - 2, bb.y1 + 2)

bb = h_labels[0].get_window_extent(rend)
fig_line(bb.x0, bb.x1 + 4, bb.y0 + 1)
bb = h_labels[14].get_window_extent(rend)
w = text_width(h_desc[14], H_FS)
fig_line(bb.x1 - w - 2, bb.x1 + 22, bb.y0 + 1)

fig.savefig('out.png', dpi=100)
